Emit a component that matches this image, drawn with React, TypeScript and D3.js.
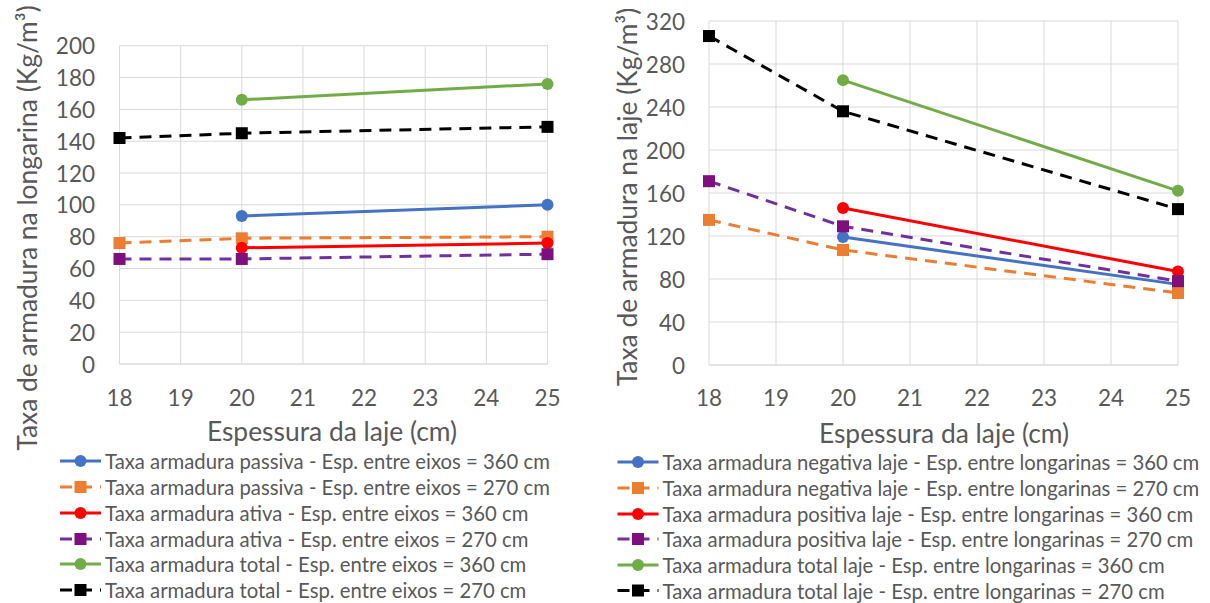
import React from "react";
import * as d3 from "d3";

// Slab thickness (cm)
const thicknessTicks = [18, 19, 20, 21, 22, 23, 24, 25];
const xThreePoints = [18, 20, 25];
const xTwoPoints = [20, 25];

// Beam (longarina) reinforcement rates, kg/m³
const longarinaTicks = [0, 20, 40, 60, 80, 100, 120, 140, 160, 180, 200];
const longarinaPassiva360 = [93, 100];
const longarinaPassiva270 = [76, 79, 80];
const longarinaAtiva360 = [73, 76];
const longarinaAtiva270 = [66, 66, 69];
const longarinaTotal360 = [166, 176];
const longarinaTotal270 = [142, 145, 149];

// Slab (laje) reinforcement rates, kg/m³
const lajeTicks = [0, 40, 80, 120, 160, 200, 240, 280, 320];
const lajeNegativa360 = [119, 75];
const lajeNegativa270 = [135, 107, 67];
const lajePositiva360 = [146, 87];
const lajePositiva270 = [171, 129, 78];
const lajeTotal360 = [265, 162];
const lajeTotal270 = [306, 236, 145];

const longarinaLabels = [
  "Taxa armadura passiva - Esp. entre eixos = 360 cm",
  "Taxa armadura passiva - Esp. entre eixos = 270 cm",
  "Taxa armadura ativa - Esp. entre eixos = 360 cm",
  "Taxa armadura ativa - Esp. entre eixos = 270 cm",
  "Taxa armadura total - Esp. entre eixos = 360 cm",
  "Taxa armadura total - Esp. entre eixos = 270 cm",
];
const lajeLabels = [
  "Taxa armadura negativa laje - Esp. entre longarinas = 360 cm",
  "Taxa armadura negativa laje - Esp. entre longarinas = 270 cm",
  "Taxa armadura positiva laje - Esp. entre longarinas = 360 cm",
  "Taxa armadura positiva laje - Esp. entre longarinas = 270 cm",
  "Taxa armadura total laje - Esp. entre longarinas = 360 cm",
  "Taxa armadura total laje - Esp. entre longarinas = 270 cm",
];

type Style = { color: string; marker: string; markerColor: string; dashed: boolean };
const styles: Style[] = [
  { color: "#4472C4", marker: "circle", markerColor: "#4472C4", dashed: false },
  { color: "#ED7D31", marker: "square", markerColor: "#ED7D31", dashed: true },
  { color: "#FF0000", marker: "circle", markerColor: "#FF0000", dashed: false },
  { color: "#7030A0", marker: "square", markerColor: "#7F0F7F", dashed: true },
  { color: "#70AD47", marker: "circle", markerColor: "#70AD47", dashed: false },
  { color: "#000000", marker: "square", markerColor: "#000000", dashed: true },
];

const FONT = "Lato, 'Open Sans', sans-serif";
const TEXT = "#595959";
const GRID = "#d9d9d9";
const DASH = "12 8";

type Series = { xs: number[]; ys: number[] };

type ChartProps = {
  xRange: [number, number];
  yDomain: [number, number];
  yRange: [number, number];
  yTicks: number[];
  yTickX: number;
  xTickY: number;
  yTitle: string;
  yTitleX: number;
  yTitleY: number;
  xTitleX: number;
  xTitleY: number;
  series: Series[];
  labels: string[];
  legendX: number;
  legendY: number[];
};

function Marker({ kind, x, y, color }: { kind: string; x: number; y: number; color: string }) {
  if (kind === "circle") return <circle cx={x} cy={y} r={6} fill={color} />;
  return <rect x={x - 6} y={y - 6} width={12} height={12} fill={color} />;
}

function Chart(p: ChartProps) {
  const x = d3.scaleLinear().domain([18, 25]).range(p.xRange);
  const y = d3.scaleLinear().domain(p.yDomain).range(p.yRange);
  const line = d3
    .line<[number, number]>()
    .x((d) => x(d[0]))
    .y((d) => y(d[1]));
  return (
    <g fontFamily={FONT} fill={TEXT}>
      {/* gridlines */}
      {p.yTicks.map((t) => (
        <line key={"h" + t} x1={p.xRange[0]} x2={p.xRange[1]} y1={y(t)} y2={y(t)} stroke={t === 0 ? "#c8c8c8" : GRID} strokeWidth={1} />
      ))}
      {thicknessTicks.map((t) => (
        <line key={"v" + t} x1={x(t)} x2={x(t)} y1={p.yRange[0]} y2={p.yRange[1]} stroke={GRID} strokeWidth={1} />
      ))}
      {/* tick labels */}
      {p.yTicks.map((t) => (
        <text key={"yt" + t} x={p.yTickX} y={y(t)} textAnchor="end" dominantBaseline="central" fontSize={22.5}>
          {t}
        </text>
      ))}
      {thicknessTicks.map((t) => (
        <text key={"xt" + t} x={x(t)} y={p.xTickY} textAnchor="middle" dominantBaseline="central" fontSize={22.5}>
          {t}
        </text>
      ))}
      {/* axis titles */}
      <text
        transform={`translate(${p.yTitleX},${p.yTitleY}) rotate(-90)`}
        textAnchor="middle"
        fontSize={26.4}
      >
        {p.yTitle}
      </text>
      <text x={p.xTitleX} y={p.xTitleY} textAnchor="middle" fontSize={26.4}>
        Espessura da laje (cm)
      </text>
      {/* series */}
      {p.series.map((s, i) => {
        const st = styles[i];
        const pts = s.xs.map((xv, j) => [xv, s.ys[j]] as [number, number]);
        return (
          <g key={"s" + i}>
            <path d={line(pts) || ""} fill="none" stroke={st.color} strokeWidth={3} strokeDasharray={st.dashed ? DASH : undefined} />
            {pts.map((d, j) => (
              <Marker key={j} kind={st.marker} x={x(d[0])} y={y(d[1])} color={st.markerColor} />
            ))}
          </g>
        );
      })}
      {/* legend */}
      {p.labels.map((lab, i) => {
        const st = styles[i];
        const ly = p.legendY[i];
        const lx = p.legendX;
        return (
          <g key={"l" + i}>
            <line x1={lx} x2={lx + 41} y1={ly} y2={ly} stroke={st.color} strokeWidth={3} strokeDasharray={st.dashed ? DASH : undefined} />
            <Marker kind={st.marker} x={lx + 20.5} y={ly} color={st.markerColor} />
            <text x={lx + 45} y={ly} dominantBaseline="central" fontSize={20.3}>
              {lab}
            </text>
          </g>
        );
      })}
    </g>
  );
}

export default function App() {
  const longarinaSeries: Series[] = [
    { xs: xTwoPoints, ys: longarinaPassiva360 },
    { xs: xThreePoints, ys: longarinaPassiva270 },
    { xs: xTwoPoints, ys: longarinaAtiva360 },
    { xs: xThreePoints, ys: longarinaAtiva270 },
    { xs: xTwoPoints, ys: longarinaTotal360 },
    { xs: xThreePoints, ys: longarinaTotal270 },
  ];
  const lajeSeries: Series[] = [
    { xs: xTwoPoints, ys: lajeNegativa360 },
    { xs: xThreePoints, ys: lajeNegativa270 },
    { xs: xTwoPoints, ys: lajePositiva360 },
    { xs: xThreePoints, ys: lajePositiva270 },
    { xs: xTwoPoints, ys: lajeTotal360 },
    { xs: xThreePoints, ys: lajeTotal270 },
  ];
  return (
    <svg
      width={1210}
      height={603}
      style={{ position: "absolute", left: 0, top: 0, background: "#fff" }}
    >
      <rect width={1210} height={603} fill="#fff" />
      <Chart
        xRange={[119.5, 547.5]}
        yDomain={[0, 200]}
        yRange={[364, 45.7]}
        yTicks={longarinaTicks}
        yTickX={95}
        xTickY={397}
        yTitle="Taxa de armadura na longarina (Kg/m³)"
        yTitleX={37}
        yTitleY={228}
        xTitleX={332}
        xTitleY={441}
        series={longarinaSeries}
        labels={longarinaLabels}
        legendX={60}
        legendY={[461, 487, 513, 539, 564, 590]}
      />
      <Chart
        xRange={[709, 1178]}
        yDomain={[0, 320]}
        yRange={[365, 21]}
        yTicks={lajeTicks}
        yTickX={685}
        xTickY={397}
        yTitle="Taxa de armadura na laje (Kg/m³)"
        yTitleX={637}
        yTitleY={197}
        xTitleX={944}
        xTitleY={443}
        series={lajeSeries}
        labels={lajeLabels}
        legendX={617.5}
        legendY={[462, 488, 514, 539, 565, 590.5]}
      />
    </svg>
  );
}
